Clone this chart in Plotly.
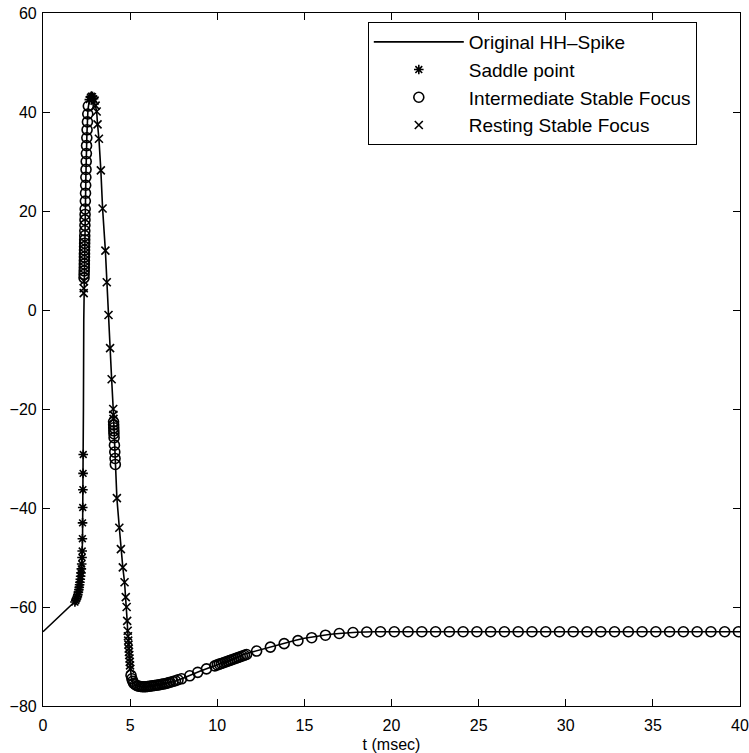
import plotly.graph_objects as go

# ---------------- data ----------------
# Original HH spike trajectory (t in msec, V in mV)
spike_t = [0, 1.8, 1.93, 2.02, 2.10, 2.18, 2.23, 2.27, 2.30, 2.32, 2.34, 2.37, 2.41, 2.46,
           2.52, 2.58, 2.66, 2.78, 2.92, 3.08, 3.13, 3.21, 3.32, 3.42, 3.58, 3.66, 3.76,
           3.85, 3.94, 4.03, 4.08, 4.15, 4.24, 4.38, 4.47, 4.58, 4.68, 4.75, 4.80, 4.83,
           4.86, 4.90, 4.95, 5.00, 5.06, 5.15, 5.30, 5.60, 6.00, 6.50, 7.00, 7.50, 8.00,
           8.50, 9.00, 9.50, 10.0, 10.5, 11.0, 11.5, 12.0, 12.5, 13.0, 13.5, 14.0, 14.5,
           15.0, 15.5, 16.0, 16.5, 17.0, 17.5, 18.0, 19.0, 20.0, 25.0, 30.0, 35.0, 40.0]
spike_v = [-65, -59.0, -58.3, -57.2, -55.5, -53.1, -51.0, -46.0, -36.0, -20.0, -2.0, 8.0, 18.0, 27.0,
           35.5, 40.5, 42.4, 43.2, 42.6, 40.1, 37.5, 34.6, 28.2, 20.5, 12.0, 5.6, -1.0,
           -7.7, -14.0, -20.0, -25.0, -31.0, -38.0, -44.0, -48.3, -52.0, -55.0, -58.0, -60.0, -62.8,
           -64.8, -67.0, -69.5, -72.0, -74.0, -75.2, -75.8, -76.1, -76.05, -75.8, -75.5, -75.1, -74.45,
           -73.8, -73.0, -72.3, -71.7, -71.0, -70.3, -69.6, -69.1, -68.6, -68.1, -67.6, -67.1, -66.7,
           -66.3, -66.0, -65.7, -65.5, -65.35, -65.2, -65.1, -65.0, -65.0, -65.0, -65.0, -65.0, -65.0]

# Saddle point samples
saddle_t = [1.83, 1.88, 1.93, 1.97, 2.00, 2.03, 2.06, 2.08, 2.10, 2.12, 2.14, 2.16, 2.18, 2.20,
            2.22, 2.24, 2.25, 2.26, 2.27, 2.28, 2.29, 2.30, 2.31,
            2.66, 2.72, 2.78, 2.84, 2.90]
saddle_v = [-59.0, -58.7, -58.3, -57.9, -57.5, -57.0, -56.5, -56.0, -55.5, -55.0, -54.4, -53.8, -53.1, -52.3,
            -51.3, -50.0, -48.7, -46.2, -43.0, -39.9, -36.3, -33.0, -29.2,
            42.5, 43.0, 43.2, 43.1, 42.7]

# Intermediate stable focus samples
inter_t = [2.355, 2.36, 2.365, 2.37, 2.372, 2.375, 2.378, 2.38, 2.383, 2.386, 2.39, 2.393, 2.396,
           2.40, 2.405, 2.41, 2.415, 2.42, 2.43, 2.44, 2.45, 2.46, 2.47, 2.48, 2.49, 2.50,
           2.515, 2.53, 2.55, 2.57, 2.60,
           4.05, 4.055, 4.06, 4.065, 4.07, 4.08, 4.10, 4.12, 4.135, 4.15,
           5.05, 5.10, 5.15, 5.20, 5.30, 5.40, 5.50, 5.60, 5.70, 5.80, 5.90, 6.00, 6.10, 6.20,
           6.30, 6.40, 6.50, 6.60, 6.70, 6.80, 6.90, 7.00, 7.10, 7.20, 7.30, 7.45, 7.60, 7.75,
           7.95, 8.42, 8.88, 9.38, 9.86,
           10.00, 10.12, 10.24, 10.36, 10.48, 10.60, 10.72, 10.84, 10.96, 11.08, 11.20, 11.32,
           11.44, 11.56, 11.68,
           12.26, 13.05, 13.84, 14.63, 15.42, 16.21, 17.00, 17.79, 18.58, 19.37, 20.16, 20.95,
           21.74, 22.53, 23.32, 24.11, 24.90, 25.69, 26.48, 27.27, 28.06, 28.85, 29.64, 30.43,
           31.22, 32.01, 32.80, 33.59, 34.38, 35.17, 35.96, 36.75, 37.54, 38.33, 39.12, 39.91]
inter_v = [6.5, 7.2, 7.9, 8.6, 9.3, 10.0, 10.7, 11.4, 12.1, 12.8, 13.5, 14.2, 15.0,
           16.0, 17.1, 18.2, 19.3, 20.4, 22.0, 23.6, 25.2, 26.8, 28.4, 30.0, 31.6, 33.2,
           34.8, 36.4, 38.0, 39.6, 41.2,
           -22.6, -23.2, -23.8, -24.4, -25.0, -25.8, -27.3, -28.7, -30.0, -31.2,
           -73.8, -74.5, -75.0, -75.4, -75.7, -75.9, -76.0, -76.05, -76.1, -76.1, -76.1, -76.05, -76.0, -75.95,
           -75.9, -75.85, -75.8, -75.75, -75.7, -75.6, -75.55, -75.5, -75.4, -75.3, -75.2, -75.05, -74.9, -74.7,
           -74.5, -73.9, -73.2, -72.5, -71.9,
           -71.7, -71.55, -71.4, -71.25, -71.1, -70.95, -70.8, -70.65, -70.5, -70.35, -70.2, -70.05,
           -69.9, -69.75, -69.6,
           -68.9, -68.1, -67.4, -66.8, -66.2, -65.7, -65.35, -65.15, -65.05, -65.0, -65.0, -65.0,
           -65.0, -65.0, -65.0, -65.0, -65.0, -65.0, -65.0, -65.0, -65.0, -65.0, -65.0, -65.0,
           -65.0, -65.0, -65.0, -65.0, -65.0, -65.0, -65.0, -65.0, -65.0, -65.0, -65.0, -65.0]

# Resting stable focus samples
rest_t = [2.335, 2.34, 2.345,
          2.96, 3.02, 3.08, 3.13, 3.21, 3.32, 3.42, 3.58, 3.66, 3.76, 3.85, 3.94, 4.03, 4.04,
          4.045, 4.24, 4.38, 4.47, 4.58, 4.68, 4.75, 4.80, 4.83, 4.86, 4.875, 4.89, 4.905,
          4.92, 4.935, 4.95, 4.965, 4.98, 4.995, 5.01]
rest_v = [3.4, 4.4, 5.8,
          42.3, 41.3, 40.1, 37.5, 34.6, 28.2, 20.5, 12.0, 5.6, -1.0, -7.7, -14.0, -20.0, -21.2,
          -22.0, -38.0, -44.0, -48.3, -52.0, -55.0, -58.0, -60.0, -62.8, -64.8, -65.9, -66.8, -67.6,
          -68.4, -69.1, -69.7, -70.4, -71.1, -71.8, -72.5]

x_ticks = [0, 5, 10, 15, 20, 25, 30, 35, 40]
y_ticks = [-80, -60, -40, -20, 0, 20, 40, 60]

# ---------------- figure ----------------
FONT = "Liberation Sans, Arial, Helvetica, sans-serif"
fig = go.Figure()

fig.add_trace(go.Scatter(
    x=spike_t, y=spike_v, mode="lines", name="Original HH\u2013Spike",
    line=dict(color="black", width=1.6)))
fig.add_trace(go.Scatter(
    x=saddle_t, y=saddle_v, mode="markers", name="Saddle point",
    marker=dict(symbol="asterisk-open", size=8, color="black",
                line=dict(color="black", width=1.6))))
fig.add_trace(go.Scatter(
    x=inter_t, y=inter_v, mode="markers", name="Intermediate Stable Focus",
    marker=dict(symbol="circle-open", size=10, color="black",
                line=dict(color="black", width=1.6))))
fig.add_trace(go.Scatter(
    x=rest_t, y=rest_v, mode="markers", name="Resting Stable Focus",
    marker=dict(symbol="x-thin-open", size=8, color="black",
                line=dict(color="black", width=1.6))))

axis_common = dict(
    showgrid=False, zeroline=False, showline=True, linecolor="black", linewidth=1.2,
    mirror="ticks", ticks="inside", ticklen=7, tickwidth=1, tickcolor="black",
    tickfont=dict(family=FONT, size=16, color="black"),
    ticklabeloverflow="allow", automargin=False,
)
fig.update_xaxes(range=[0, 40], tickvals=x_ticks, ticktext=[str(v) for v in x_ticks],
                 ticklabelstandoff=5,
                 title=dict(text="t (msec)", font=dict(family=FONT, size=16, color="black"),
                            standoff=10),
                 **axis_common)
fig.update_yaxes(range=[-80, 60], tickvals=y_ticks,
                 ticktext=[str(v).replace("-", "\u2212") for v in y_ticks],
                 ticklabelstandoff=2,
                 **axis_common)

fig.update_layout(
    width=749, height=753,
    margin=dict(l=43, r=9, t=13, b=47),
    paper_bgcolor="white", plot_bgcolor="white",
    font=dict(family=FONT, color="black"),
    legend=dict(x=0.466, y=0.987, xanchor="left", yanchor="top",
                bgcolor="white", bordercolor="black", borderwidth=1,
                font=dict(family=FONT, size=19, color="black"),
                itemwidth=90, tracegroupgap=0),
    showlegend=True,
)

fig.write_html("out.html")
